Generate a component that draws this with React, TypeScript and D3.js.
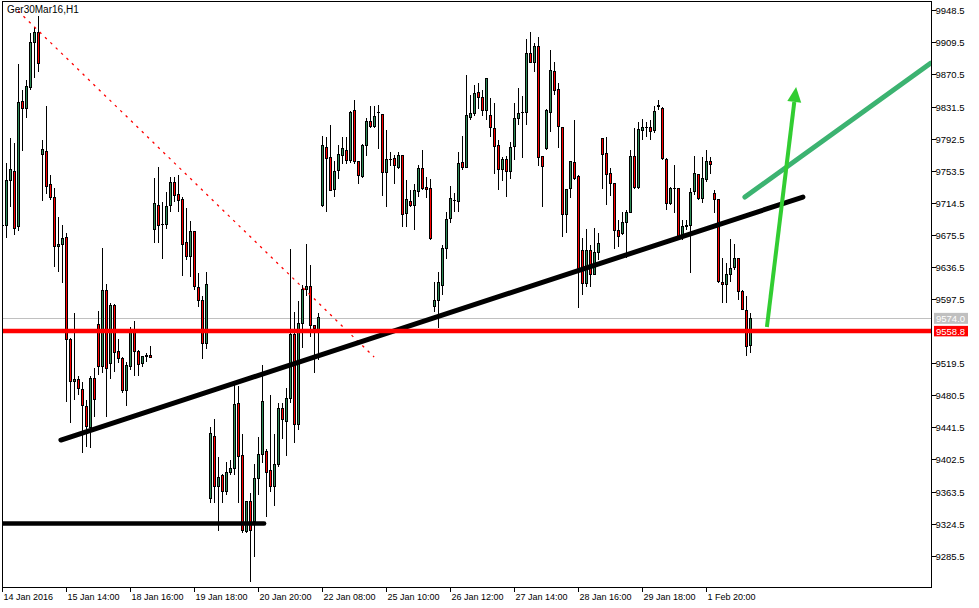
import * as d3 from 'd3';

// Ger30Mar16, H1 — hourly candles, oldest first
const opens = [
  9687.5, 9686.6, 9741.3, 9753.1, 9685.4, 9838.2, 9828.9, 9854.4, 9909.6, 9921.7,
  9773.0, 9777.1, 9737.0, 9721.2, 9661.1, 9664.0, 9672.5, 9548.5, 9497.0, 9500.3,
  9488.1, 9466.6, 9441.6, 9501.1, 9566.8, 9515.2, 9608.1, 9519.4, 9590.2, 9534.3,
  9525.4, 9486.9, 9515.2, 9557.8, 9534.3, 9519.4, 9527.4, 9529.1, 9682.3, 9711.0,
  9688.3, 9688.3, 9711.0, 9739.4, 9724.0, 9719.1, 9666.5, 9649.0, 9679.0, 9611.7,
  9596.3, 9543.7, 9355.3, 9431.0, 9369.4, 9382.4, 9363.3, 9386.4, 9391.7, 9470.7,
  9407.9, 9314.7, 9351.1, 9326.8, 9379.6, 9409.1, 9411.9, 9388.8, 9369.4, 9396.6,
  9464.7, 9449.2, 9476.8, 9553.8, 9445.2, 9568.0, 9609.3, 9613.3, 9565.1, 9559.9,
  9711.8, 9781.9, 9769.8, 9730.9, 9753.5, 9771.7, 9778.3, 9765.7, 9826.1, 9765.3,
  9746.2, 9784.7, 9813.9, 9807.0, 9824.5, 9822.4, 9751.1, 9767.7, 9768.6, 9757.6,
  9771.7, 9701.7, 9715.8, 9711.0, 9728.0, 9756.4, 9733.3, 9731.3, 9588.2, 9595.5,
  9613.7, 9659.2, 9695.7, 9717.0, 9715.8, 9763.7, 9757.6, 9818.4, 9823.3, 9848.3,
  9842.7, 9826.5, 9821.2, 9805.0, 9784.7, 9754.4, 9767.7, 9752.3, 9782.7, 9817.2,
  9824.0, 9824.0, 9895.4, 9885.3, 9905.1, 9770.5, 9780.7, 9824.0, 9874.7, 9852.4,
  9806.3, 9700.5, 9732.1, 9763.7, 9746.2, 9657.1, 9616.6, 9657.1, 9627.9, 9654.3,
  9792.9, 9774.7, 9750.3, 9738.2, 9681.4, 9677.4, 9690.3, 9702.5, 9770.5, 9733.3,
  9802.1, 9806.3, 9806.3, 9802.1, 9831.0, 9829.4, 9767.3, 9713.9, 9731.3, 9731.3,
  9673.3, 9685.4, 9687.5, 9728.0, 9748.3, 9720.0, 9743.0, 9765.3, 9725.2, 9717.9,
  9617.8, 9614.6, 9627.5, 9636.1, 9646.2, 9606.4, 9583.0, 9541.6,
];
const highs = [
  9689.0, 9762.5, 9793.6, 9787.5, 9883.2, 9851.6, 9863.8, 9920.9, 9928.2, 9941.9,
  9790.8, 9832.2, 9748.3, 9732.1, 9697.6, 9687.5, 9678.1, 9550.1, 9580.5, 9503.9,
  9497.0, 9474.8, 9503.9, 9513.7, 9582.9, 9659.2, 9615.4, 9592.7, 9591.5, 9548.5,
  9527.4, 9521.3, 9563.9, 9570.8, 9535.6, 9528.2, 9531.5, 9540.4, 9744.3, 9757.6,
  9715.8, 9727.2, 9745.5, 9746.2, 9748.3, 9721.2, 9707.8, 9692.4, 9680.2, 9628.8,
  9601.2, 9630.0, 9442.3, 9451.7, 9405.1, 9384.8, 9399.7, 9401.8, 9493.0, 9491.8,
  9433.4, 9351.1, 9361.3, 9396.9, 9430.1, 9517.3, 9414.8, 9480.8, 9433.4, 9470.7,
  9470.7, 9489.7, 9658.3, 9582.1, 9595.1, 9614.6, 9664.4, 9638.9, 9565.9, 9580.9,
  9796.0, 9794.8, 9809.0, 9765.3, 9784.7, 9794.8, 9794.8, 9826.1, 9839.5, 9765.3,
  9785.6, 9817.2, 9832.2, 9832.2, 9833.4, 9822.4, 9803.0, 9776.6, 9772.6, 9776.6,
  9771.7, 9742.2, 9730.0, 9737.3, 9760.4, 9778.7, 9746.2, 9743.0, 9618.6, 9630.7,
  9663.2, 9703.7, 9734.9, 9726.0, 9776.6, 9795.7, 9869.8, 9845.5, 9857.7, 9859.8,
  9851.6, 9865.8, 9841.5, 9835.4, 9790.8, 9770.5, 9771.7, 9788.7, 9835.4, 9853.7,
  9844.3, 9913.2, 9922.5, 9908.4, 9916.4, 9770.5, 9828.5, 9900.2, 9886.0, 9859.8,
  9806.6, 9731.3, 9765.3, 9815.1, 9748.3, 9671.3, 9682.3, 9663.2, 9683.5, 9677.4,
  9792.9, 9794.8, 9756.4, 9738.9, 9693.6, 9703.7, 9705.7, 9778.7, 9805.0, 9813.1,
  9816.0, 9813.1, 9815.1, 9832.2, 9839.5, 9831.3, 9768.6, 9734.1, 9760.4, 9731.3,
  9693.6, 9693.6, 9732.1, 9771.4, 9748.3, 9770.5, 9778.7, 9770.2, 9730.0, 9717.9,
  9647.0, 9640.9, 9670.1, 9664.0, 9647.0, 9608.5, 9601.2, 9580.1,
];
const lows = [
  9686.0, 9672.1, 9709.7, 9675.3, 9680.2, 9777.8, 9817.9, 9851.6, 9866.6, 9873.8,
  9716.7, 9724.8, 9717.9, 9636.8, 9630.7, 9616.6, 9472.7, 9446.8, 9474.8, 9480.8,
  9410.0, 9418.0, 9416.0, 9454.5, 9505.1, 9507.3, 9453.7, 9499.9, 9509.2, 9519.4,
  9482.9, 9467.5, 9511.2, 9503.9, 9503.9, 9515.2, 9521.3, 9525.4, 9665.3, 9665.3,
  9646.5, 9682.3, 9703.7, 9715.8, 9703.7, 9625.9, 9645.0, 9623.9, 9608.5, 9588.2,
  9524.6, 9536.8, 9349.9, 9349.9, 9315.9, 9349.2, 9359.3, 9383.6, 9383.6, 9349.2,
  9313.4, 9312.7, 9253.9, 9284.3, 9359.3, 9397.8, 9332.9, 9363.3, 9345.9, 9393.7,
  9427.0, 9406.7, 9470.7, 9422.9, 9438.3, 9537.6, 9601.6, 9551.7, 9507.9, 9523.4,
  9709.4, 9703.7, 9729.2, 9721.9, 9743.4, 9761.6, 9761.6, 9762.5, 9761.6, 9737.0,
  9745.0, 9771.7, 9805.4, 9805.4, 9779.9, 9722.7, 9709.0, 9759.6, 9737.0, 9755.6,
  9685.4, 9685.4, 9709.4, 9681.4, 9721.9, 9730.0, 9719.9, 9669.3, 9582.1, 9562.3,
  9602.4, 9645.8, 9689.6, 9703.7, 9703.7, 9754.4, 9756.8, 9815.1, 9820.0, 9828.5,
  9820.4, 9815.1, 9794.8, 9749.5, 9730.0, 9741.4, 9721.9, 9743.4, 9766.5, 9809.0,
  9769.3, 9809.0, 9884.4, 9873.8, 9759.2, 9709.7, 9778.7, 9800.9, 9845.5, 9780.7,
  9673.3, 9677.4, 9719.9, 9742.2, 9586.2, 9602.4, 9612.5, 9612.5, 9626.7, 9644.9,
  9730.9, 9711.8, 9722.7, 9657.9, 9661.1, 9675.3, 9647.0, 9701.7, 9730.9, 9730.9,
  9790.8, 9794.8, 9790.8, 9799.0, 9827.3, 9766.5, 9705.7, 9711.8, 9701.7, 9669.3,
  9669.3, 9681.4, 9629.6, 9723.9, 9717.9, 9714.4, 9739.8, 9749.1, 9701.7, 9616.6,
  9592.7, 9592.7, 9618.6, 9632.8, 9596.3, 9584.2, 9528.6, 9531.5,
];
const closes = [
  9687.5, 9742.2, 9754.4, 9683.0, 9837.0, 9829.4, 9856.1, 9909.6, 9921.7, 9884.1,
  9778.7, 9734.1, 9721.2, 9661.1, 9664.4, 9671.3, 9548.5, 9497.0, 9500.3, 9489.3,
  9467.8, 9442.3, 9501.1, 9475.6, 9515.2, 9607.3, 9512.5, 9589.4, 9532.8, 9525.4,
  9486.9, 9517.3, 9557.8, 9533.5, 9517.7, 9528.2, 9529.1, 9526.2, 9713.9, 9687.1,
  9688.3, 9710.2, 9739.4, 9723.1, 9717.0, 9664.0, 9649.0, 9679.0, 9612.5, 9596.3,
  9543.7, 9615.4, 9434.3, 9369.4, 9380.8, 9363.3, 9386.9, 9391.7, 9469.9, 9405.8,
  9315.9, 9351.1, 9316.7, 9379.6, 9409.1, 9472.7, 9386.9, 9369.4, 9396.6, 9464.7,
  9450.5, 9476.8, 9554.6, 9444.4, 9568.0, 9608.5, 9613.3, 9565.1, 9561.9, 9575.3,
  9784.7, 9768.6, 9730.0, 9753.1, 9772.6, 9780.7, 9766.5, 9824.0, 9764.4, 9747.1,
  9784.7, 9813.9, 9807.0, 9820.0, 9824.5, 9751.1, 9767.7, 9767.7, 9759.6, 9771.7,
  9700.5, 9718.7, 9711.0, 9730.0, 9756.4, 9731.3, 9730.9, 9670.8, 9595.5, 9617.4,
  9659.2, 9694.4, 9719.9, 9717.8, 9762.5, 9757.6, 9820.9, 9823.3, 9847.6, 9842.7,
  9826.5, 9865.8, 9805.8, 9782.7, 9754.4, 9767.3, 9752.3, 9781.9, 9817.2, 9823.3,
  9824.0, 9896.2, 9885.3, 9904.2, 9769.8, 9759.2, 9826.1, 9875.9, 9850.8, 9807.0,
  9700.5, 9730.9, 9764.4, 9744.3, 9632.8, 9616.6, 9657.1, 9627.9, 9654.3, 9665.2,
  9773.8, 9748.3, 9738.2, 9681.4, 9673.3, 9690.3, 9702.5, 9770.5, 9733.3, 9803.8,
  9806.3, 9806.3, 9800.9, 9825.2, 9832.2, 9768.6, 9713.9, 9732.1, 9731.3, 9673.3,
  9685.4, 9687.5, 9726.8, 9750.3, 9720.0, 9744.3, 9765.3, 9761.3, 9718.7, 9618.6,
  9614.6, 9627.5, 9634.9, 9646.2, 9606.4, 9585.0, 9539.6, 9574.0,
];

const priceTicks = [9948.5, 9909.5, 9870.5, 9831.5, 9792.5, 9753.5, 9714.5, 9675.5, 9636.5, 9597.5, 9519.5, 9480.5, 9441.5, 9402.5, 9363.5, 9324.5, 9285.5];
const timeLabels = ['14 Jan 2016', '15 Jan 14:00', '18 Jan 16:00', '19 Jan 18:00', '20 Jan 20:00', '22 Jan 08:00', '25 Jan 10:00', '26 Jan 12:00', '27 Jan 14:00', '28 Jan 16:00', '29 Jan 18:00', '1 Feb 20:00'];
const timeLabelBars = [0, 16, 32, 48, 64, 80, 96, 112, 128, 144, 160, 176];

const bidPrice = 9574.0;
const supportPrice = 9558.8;

// hand-drawn objects: [bar index, price] anchors
const upTrend = [[14.6, 9426.1], [200.1, 9721.5]];
const lowSupport = [[0, 9324.6], [65.4, 9324.6]];
const downTrend = [[3.9, 9947.6], [92.9, 9527.0]];
const arrowUp = [[191.1, 9563.5], [198.4, 9855.2]];
const projection = [[185.6, 9721.5], [232.1, 9884.4]];

const W = 979;
const H = 608;
const FONT = "Tahoma, 'Liberation Sans', Arial, sans-serif";

export default function App() {
  const x = d3.scaleLinear().domain([0, 232]).range([2.5, 930.5]);
  const y = d3.scaleLinear().domain([9285.5, 9948.5]).range([555.7, 10.3]);
  const left = 2.5, right = 931.5, top = 1.5, bottom = 587.5;

  const seg = (pts: number[][]) => ({ x1: x(pts[0][0]), y1: y(pts[0][1]), x2: x(pts[1][0]), y2: y(pts[1][1]) });

  const candles = opens.map((o, i) => {
    const c = closes[i];
    const cx = x(i);
    const yTop = y(Math.max(o, c));
    const yBot = y(Math.min(o, c));
    return { cx, yTop, yBot, yHi: y(highs[i]), yLo: y(lows[i]), up: c >= o };
  });

  // arrowhead for the green arrow
  const a = seg(arrowUp);
  const len = Math.hypot(a.x2 - a.x1, a.y2 - a.y1);
  const ux = (a.x2 - a.x1) / len, uy = (a.y2 - a.y1) / len;
  const headLen = 15, headHalf = 7;
  const bx = a.x2 - ux * headLen, by = a.y2 - uy * headLen;
  const head = `M${a.x2},${a.y2}L${bx - uy * headHalf},${by + ux * headHalf}L${bx + uy * headHalf},${by - ux * headHalf}Z`;

  const ut = seg(upTrend), ls = seg(lowSupport), dt = seg(downTrend), pr = seg(projection);
  const bidY = y(bidPrice), supY = y(supportPrice);

  return (
    <svg width={W} height={H} style={{ position: 'absolute', left: 0, top: 0, background: '#fff' }} fontFamily={FONT}>
      <defs>
        <clipPath id="plot">
          <rect x={left} y={top} width={right - left} height={bottom - top} />
        </clipPath>
      </defs>
      <rect x={0} y={0} width={W} height={H} fill="#fff" />

      <g clipPath="url(#plot)">
        <line x1={left} x2={right} y1={Math.round(bidY) + 0.5} y2={Math.round(bidY) + 0.5} stroke="#c0c0c0" />

        {candles.map((d, i) => (
          <g key={i} shapeRendering="crispEdges">
            <line x1={d.cx} x2={d.cx} y1={d.yHi} y2={d.yLo} stroke="#000" />
            <rect x={d.cx - 1} y={d.yTop} width={2} height={Math.max(d.yBot - d.yTop, 0.01)}
              fill={d.up ? '#2e8b57' : '#ff0000'} stroke="#000" />
          </g>
        ))}

        <line {...dt} stroke="#ff0000" strokeWidth={1.3} strokeDasharray="2.5 5" />
        <line {...ls} stroke="#000" strokeWidth={4.5} strokeLinecap="round" />
        <line {...ut} stroke="#000" strokeWidth={5} strokeLinecap="round" />
        <line x1={left} x2={right} y1={supY} y2={supY} stroke="#ff0000" strokeWidth={4.5} />
        <line {...pr} stroke="#3cb371" strokeWidth={5} strokeLinecap="round" />
        <line x1={a.x1} y1={a.y1} x2={bx} y2={by} stroke="#32cd32" strokeWidth={4} />
        <path d={head} fill="#32cd32" />
      </g>

      <rect x={left} y={top} width={right - left} height={bottom - top} fill="none" stroke="#000" shapeRendering="crispEdges" />

      <text x={7} y={13} fontSize={10} fill="#000">Ger30Mar16,H1</text>

      {priceTicks.map((v) => {
        const ty = Math.round(y(v)) + 0.5;
        return (
          <g key={v}>
            <line x1={right} x2={right + 4} y1={ty} y2={ty} stroke="#000" shapeRendering="crispEdges" />
            <text x={right + 4} y={ty + 3.5} fontSize={9.5} fill="#000">{v.toFixed(1)}</text>
          </g>
        );
      })}

      <rect x={934} y={bidY - 5.5} width={34} height={11} fill="#c0c0c0" />
      <text x={936} y={bidY + 3.5} fontSize={9.5} fill="#fff">{bidPrice.toFixed(1)}</text>
      <rect x={934} y={supY - 5} width={34} height={10.5} fill="#ff0000" />
      <text x={936} y={supY + 3.8} fontSize={9.5} fill="#fff">{supportPrice.toFixed(1)}</text>

      {timeLabels.map((t, k) => {
        const tx = Math.round(x(timeLabelBars[k])) - 0.5;
        return (
          <g key={t}>
            <line x1={tx} x2={tx} y1={bottom} y2={bottom + 4} stroke="#000" shapeRendering="crispEdges" />
            <text x={tx + 1} y={600} fontSize={9} fill="#000">{t}</text>
          </g>
        );
      })}
    </svg>
  );
}
